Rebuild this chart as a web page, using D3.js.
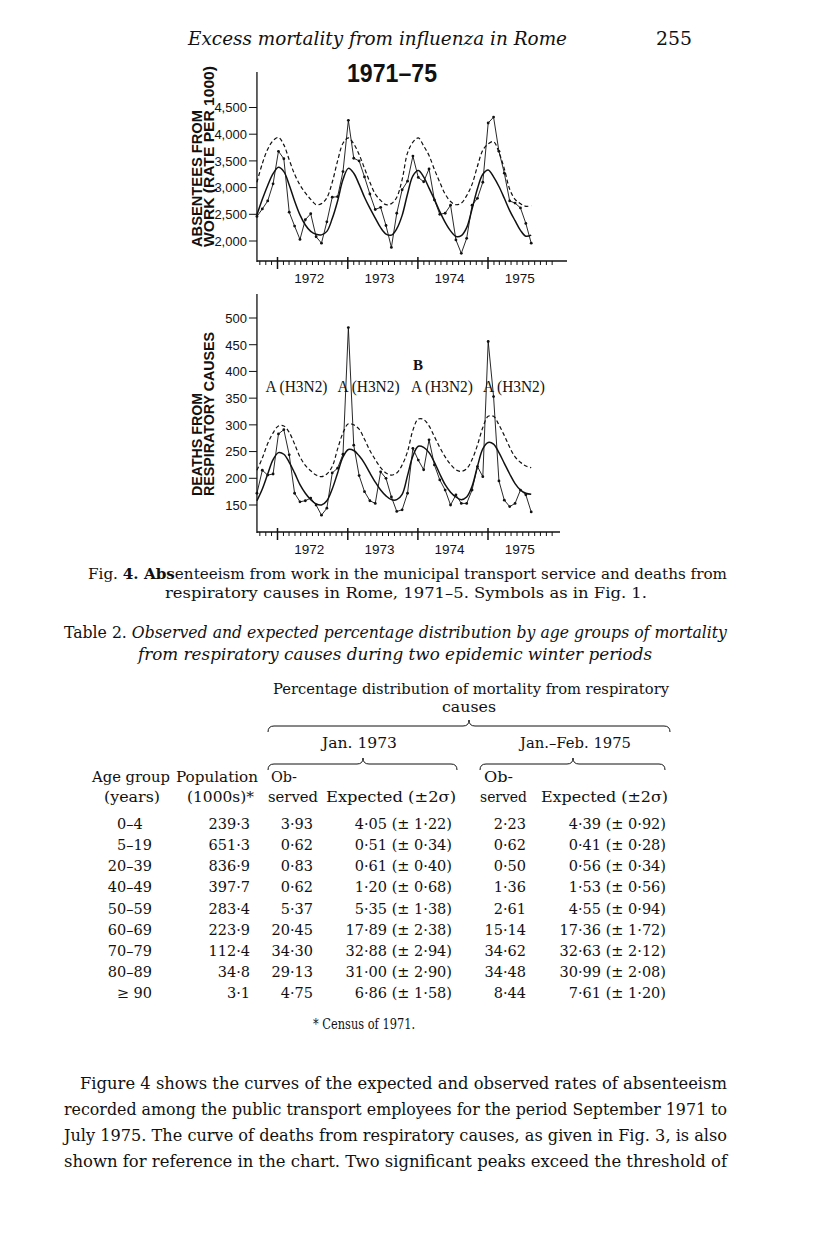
<!DOCTYPE html>
<html>
<head>
<meta charset="utf-8">
<script src="https://cdn.jsdelivr.net/npm/d3@7"></script>
<style>
  body { margin: 0; background: #fff; }
  svg text { fill: #111; }
</style>
</head>
<body>
<svg id="page" width="816" height="1255"></svg>
<script>
// ---- figure data: 4-weekly periods starting mid-Sept 1971 ----
const periodStart = new Date(1971, 8, 16)
const periodDays = 28

const absentObserved = [2460, 2600, 2750, 3070, 3680, 3540, 2540, 2280, 2030, 2400,
  2510, 2080, 1960, 2360, 2820, 2830, 3300, 4260, 3550, 3500,
  3200, 2880, 2590, 2630, 2290, 1880, 2520, 2960, 3120, 3590,
  3190, 3110, 3350, 2770, 2500, 2520, 2670, 2020, 1770, 2050,
  2670, 2800, 3100, 4210, 4320, 3680, 3270, 2750, 2710, 2620,
  2330, 1960]
const absentExpected = [2490, 2780, 3040, 3260, 3380, 3300, 3050, 2750, 2490, 2300,
  2180, 2125, 2115, 2180, 2420, 2750, 3150, 3360, 3270, 3060,
  2820, 2615, 2430, 2250, 2130, 2110, 2230, 2480, 2880, 3220,
  3320, 3200, 2990, 2780, 2550, 2350, 2190, 2085, 2100, 2250,
  2600, 2980, 3250, 3330, 3200, 3020, 2800, 2570, 2380, 2200,
  2090, 2110]
const absentUpper = [3100, 3450, 3720, 3880, 3940, 3800, 3520, 3250, 3050, 2900,
  2780, 2680, 2700, 2810, 3100, 3500, 3830, 3930, 3820, 3620,
  3360, 3100, 2880, 2760, 2680, 2700, 2820, 3150, 3650, 3850,
  3930, 3780, 3600, 3340, 3100, 2880, 2740, 2680, 2710, 2850,
  3060, 3400, 3700, 3820, 3860, 3660, 3350, 2970, 2780, 2700,
  2650, 2660]

const deathsObserved = [172, 215, 206, 208, 283, 291, 244, 172, 156, 158,
  163, 150, 131, 144, 210, 219, 245, 482, 262, 205,
  175, 158, 153, 212, 200, 165, 138, 141, 172, 256,
  234, 216, 272, 225, 197, 178, 150, 169, 153, 153,
  178, 222, 203, 456, 353, 195, 159, 147, 153, 178,
  169, 137]
const deathsExpected = [158, 180, 208, 235, 248, 245, 230, 210, 188, 172,
  160, 152, 150, 158, 180, 210, 240, 254, 252, 242,
  228, 210, 193, 178, 167, 160, 160, 170, 205, 242,
  260, 258, 248, 230, 208, 188, 174, 165, 160, 165,
  185, 222, 255, 267, 264, 248, 228, 208, 190, 178,
  172, 170]
const deathsUpper = [215, 238, 265, 285, 298, 298, 286, 264, 240, 224,
  214, 206, 203, 208, 222, 255, 285, 302, 300, 292,
  273, 252, 235, 220, 210, 206, 210, 225, 250, 290,
  311, 310, 298, 278, 258, 240, 226, 216, 213, 218,
  235, 262, 295, 316, 316, 300, 280, 258, 240, 230,
  223, 220]

const absentTicks = [2000, 2500, 3000, 3500, 4000, 4500]
const deathTicks = [150, 200, 250, 300, 350, 400, 450, 500]
const yearLabels = [1972, 1973, 1974, 1975]
const strainLabels = [
  { date: '1972-04-09', text: 'A (H3N2)' },
  { date: '1973-04-19', text: 'A (H3N2)' },
  { date: '1974-05-06', text: 'A (H3N2)' },
  { date: '1975-05-16', text: 'A (H3N2)' }
]
const extraStrain = { date: '1974-05-06', text: 'B' }

// ---- table data ----
const ageGroups = ['0–4\u2007', '5–19', '20–39', '40–49', '50–59', '60–69', '70–79', '80–89', '≥ 90']
const population = ['239·3', '651·3', '836·9', '397·7', '283·4', '223·9', '112·4', '34·8', '3·1']
const obs1973 = ['3·93', '0·62', '0·83', '0·62', '5·37', '20·45', '34·30', '29·13', '4·75']
const exp1973 = ['4·05', '0·51', '0·61', '1·20', '5·35', '17·89', '32·88', '31·00', '6·86']
const sd1973 = ['1·22', '0·34', '0·40', '0·68', '1·38', '2·38', '2·94', '2·90', '1·58']
const obs1975 = ['2·23', '0·62', '0·50', '1·36', '2·61', '15·14', '34·62', '34·48', '8·44']
const exp1975 = ['4·39', '0·41', '0·56', '1·53', '4·55', '17·36', '32·63', '30·99', '7·61']
const sd1975 = ['0·92', '0·28', '0·34', '0·56', '0·94', '1·72', '2·12', '2·08', '1·20']

const bodyLines = [
  'Figure 4 shows the curves of the expected and observed rates of absenteeism',
  'recorded among the public transport employees for the period September 1971 to',
  'July 1975. The curve of deaths from respiratory causes, as given in Fig. 3, is also',
  'shown for reference in the chart. Two significant peaks exceed the threshold of'
]

// ---- drawing ----
const serif = "'DejaVu Serif', 'Liberation Serif', serif"
const timesLike = "'Liberation Serif', 'Times New Roman', serif"
const sans = "'Liberation Sans', Arial, sans-serif"
const ink = '#111'
const svg = d3.select('#page')

const periodDate = i => d3.timeDay.offset(periodStart, i * periodDays)

const x = d3.scaleTime()
  .domain([new Date(1972, 0, 1), new Date(1975, 0, 1)])
  .range([277.5, 488])

function textLine(str, x0, x1, y, size, style) {
  const t = svg.append('text')
    .attr('x', x0).attr('y', y)
    .attr('font-family', serif)
    .attr('font-size', size)
    .attr('font-style', style || 'normal')
    .text(str)
  if (x1) t.attr('textLength', x1 - x0).attr('lengthAdjust', 'spacingAndGlyphs')
  return t
}

function drawPanel({ yDomain, yRange, ticks, fmt, axisTop, baseY, axisEnd, series, title }) {
  const g = svg.append('g')
  const y = d3.scaleLinear().domain(yDomain).range(yRange)
  const x0 = x(periodStart)

  // y axis
  g.append('line').attr('x1', x0).attr('x2', x0).attr('y1', axisTop).attr('y2', baseY + 1)
    .attr('stroke', ink).attr('stroke-width', 1.3)
  ticks.forEach(v => {
    g.append('line').attr('x1', x0 - 8).attr('x2', x0).attr('y1', y(v)).attr('y2', y(v))
      .attr('stroke', ink).attr('stroke-width', 1)
    g.append('text').attr('x', x0 - 10).attr('y', y(v) + 4.8)
      .attr('text-anchor', 'end').attr('font-family', sans).attr('font-size', 13)
      .text(fmt(v))
  })

  // x axis
  g.append('line').attr('x1', x0).attr('x2', axisEnd).attr('y1', baseY).attr('y2', baseY)
    .attr('stroke', ink).attr('stroke-width', 1.3)
  d3.timeMonth.range(new Date(1971, 9, 1), new Date(1976, 0, 1)).forEach(d => {
    const major = d.getMonth() === 0
    g.append('line').attr('x1', x(d)).attr('x2', x(d))
      .attr('y1', major ? baseY - 4 : baseY).attr('y2', baseY + (major ? 8 : 4))
      .attr('stroke', ink).attr('stroke-width', major ? 1.5 : 1)
  })
  yearLabels.forEach(yr => {
    g.append('text').attr('x', x(new Date(yr, 5, 15))).attr('y', baseY + 22)
      .attr('text-anchor', 'middle').attr('font-family', sans).attr('font-size', 13.5)
      .text(yr)
  })

  // axis title, rotated, both lines start at the bottom
  title.lines.forEach((s, k) => {
    g.append('text')
      .attr('transform', `translate(${title.x + k * 12},${title.y}) rotate(-90)`)
      .attr('font-family', sans).attr('font-weight', 'bold').attr('font-size', 14)
      .attr('textLength', title.lengths[k]).attr('lengthAdjust', 'spacingAndGlyphs')
      .text(s)
  })

  const pts = arr => arr.map((v, i) => [x(periodDate(i)), y(v)])
  const smooth = d3.line().curve(d3.curveCatmullRom.alpha(0.5))
  const straight = d3.line()

  g.append('path').attr('d', smooth(pts(series.upper)))
    .attr('fill', 'none').attr('stroke', ink).attr('stroke-width', 1.2)
    .attr('stroke-dasharray', '4,2.6')
  g.append('path').attr('d', smooth(pts(series.expected)))
    .attr('fill', 'none').attr('stroke', ink).attr('stroke-width', 1.5)
  g.append('path').attr('d', straight(pts(series.observed)))
    .attr('fill', 'none').attr('stroke', ink).attr('stroke-width', 0.9)
  g.selectAll('circle.obs').data(pts(series.observed)).join('circle')
    .attr('cx', d => d[0]).attr('cy', d => d[1]).attr('r', 1.4).attr('fill', ink)
  return { g, y }
}

// running head
textLine('Excess mortality from influenza in Rome', 188, 567, 45, 18, 'italic')
textLine('255', 656, 692, 45, 18)

// title
svg.append('text').attr('x', 392).attr('y', 82).attr('text-anchor', 'middle')
  .attr('font-family', sans).attr('font-weight', 'bold').attr('font-size', 26)
  .attr('textLength', 90).attr('lengthAdjust', 'spacingAndGlyphs')
  .text('1971–75')

drawPanel({
  yDomain: [2000, 4500], yRange: [241, 107.5], ticks: absentTicks, fmt: d3.format(','),
  axisTop: 72, baseY: 261, axisEnd: 567,
  series: { observed: absentObserved, expected: absentExpected, upper: absentUpper },
  title: { x: 202, y: 247, lines: ['ABSENTEES FROM', 'WORK (RATE PER 1000)'], lengths: [137, 181] }
})

const deaths = drawPanel({
  yDomain: [150, 500], yRange: [505, 318], ticks: deathTicks, fmt: d3.format('d'),
  axisTop: 294, baseY: 532, axisEnd: 560,
  series: { observed: deathsObserved, expected: deathsExpected, upper: deathsUpper },
  title: { x: 201.5, y: 496, lines: ['DEATHS FROM', 'RESPIRATORY CAUSES'], lengths: [103, 164] }
})

const parseDay = d3.timeParse('%Y-%m-%d')
strainLabels.forEach(s => {
  deaths.g.append('text').attr('x', x(parseDay(s.date))).attr('y', 392)
    .attr('text-anchor', 'middle').attr('font-family', timesLike).attr('font-size', 16)
    .attr('textLength', 62).attr('lengthAdjust', 'spacingAndGlyphs')
    .text(s.text)
})
deaths.g.append('text').attr('x', x(parseDay(extraStrain.date)) - 24).attr('y', 370)
  .attr('text-anchor', 'middle').attr('font-family', timesLike).attr('font-size', 15)
  .attr('font-weight', 'bold').text(extraStrain.text)

// figure caption
const cap1 = textLine('', 88, 727, 579, 14)
cap1.append('tspan').text('Fig. ')
cap1.append('tspan').attr('font-weight', 'bold').text('4. Abs')
cap1.append('tspan').text('enteeism from work in the municipal transport service and deaths from')
textLine('respiratory causes in Rome, 1971–5. Symbols as in Fig. 1.', 165, 647, 598, 14)

// table title
const tt = textLine('', 64, 727, 638, 16)
tt.append('tspan').text('Table 2. ')
tt.append('tspan').attr('font-style', 'italic')
  .text('Observed and expected percentage distribution by age groups of mortality')
textLine('from respiratory causes during two epidemic winter periods', 138, 652, 660, 16, 'italic')

// table header
const hs = 14.5
textLine('Percentage distribution of mortality from respiratory', 273, 669, 694, hs)
textLine('causes', 442, 496, 712, hs)

function brace(x0, x1, xc, yb) {
  const r = 6
  return `M${x0},${yb + r} Q${x0},${yb} ${x0 + r},${yb} L${xc - r},${yb} Q${xc},${yb} ${xc},${yb - r}` +
    ` Q${xc},${yb} ${xc + r},${yb} L${x1 - r},${yb} Q${x1},${yb} ${x1},${yb + r}`
}
svg.append('path').attr('d', brace(268, 670, 469, 726)).attr('fill', 'none').attr('stroke', ink).attr('stroke-width', 1)
textLine('Jan. 1973', 322, 397, 748, hs)
textLine('Jan.–Feb. 1975', 520, 631, 748, hs)
svg.append('path').attr('d', brace(268, 457, 363, 764)).attr('fill', 'none').attr('stroke', ink).attr('stroke-width', 1)
svg.append('path').attr('d', brace(480, 665, 573, 764)).attr('fill', 'none').attr('stroke', ink).attr('stroke-width', 1)

textLine('Age group', 92, 170, 782, hs)
textLine('(years)', 104, 160, 802, hs)
textLine('Population', 176, 258, 782, hs)
textLine('(1000s)*', 187, 254, 802, hs)
textLine('Ob-', 271, 297, 782, hs)
textLine('served', 268, 318, 802, hs)
textLine('Expected (±2σ)', 326, 456, 802, hs)
textLine('Ob-', 484, 513, 782, hs)
textLine('served', 480, 527, 802, hs)
textLine('Expected (±2σ)', 541, 668, 802, hs)

// table rows
const rowY = d3.scalePoint().domain(d3.range(ageGroups.length)).range([829, 998])
const cols = [
  { vals: ageGroups, right: 152 },
  { vals: population, right: 250 },
  { vals: obs1973, right: 313 },
  { vals: exp1973.map((e, i) => `${e} (± ${sd1973[i]})`), right: 452 },
  { vals: obs1975, right: 526 },
  { vals: exp1975.map((e, i) => `${e} (± ${sd1975[i]})`), right: 666 }
]
cols.forEach(c => {
  c.vals.forEach((v, i) => {
    svg.append('text').attr('x', c.right).attr('y', rowY(i))
      .attr('text-anchor', 'end').attr('font-family', serif).attr('font-size', hs)
      .text(v)
  })
})
textLine('* Census of 1971.', 313, 415, 1029, hs)

// body text
bodyLines.forEach((s, i) => {
  textLine(s, i === 0 ? 80 : 64, 727, 1089 + i * 26, 16)
})
</script>
</body>
</html>
